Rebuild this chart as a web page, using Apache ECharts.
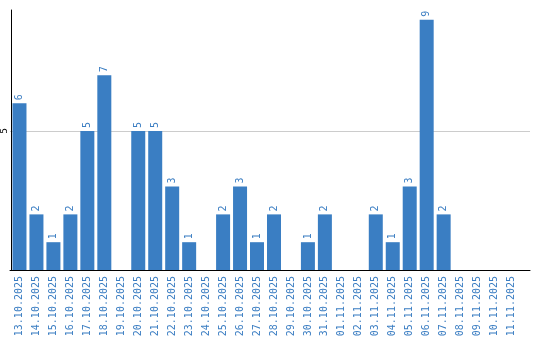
<!DOCTYPE html>
<html>
<head>
<meta charset="utf-8">
<script src="https://cdn.jsdelivr.net/npm/echarts@6/dist/echarts.min.js"></script>
<style>html,body{margin:0;padding:0;background:#fff}#c{width:540px;height:340px}</style>
</head>
<body>
<div id="c"></div>
<script>
var categories = ['13.10.2025','14.10.2025','15.10.2025','16.10.2025','17.10.2025','18.10.2025','19.10.2025','20.10.2025','21.10.2025','22.10.2025','23.10.2025','24.10.2025','25.10.2025','26.10.2025','27.10.2025','28.10.2025','29.10.2025','30.10.2025','31.10.2025','01.11.2025','02.11.2025','03.11.2025','04.11.2025','05.11.2025','06.11.2025','07.11.2025','08.11.2025','09.11.2025','10.11.2025','11.11.2025'];
var values = [6,2,1,2,5,7,0,5,5,3,1,0,2,3,1,2,0,1,2,0,0,2,1,3,9,2,0,0,0,0];
var yTickLabels = [5];

var chart = echarts.init(document.getElementById('c'), null, {renderer: 'canvas'});
chart.setOption({
  animation: false,
  backgroundColor: '#fff',
  grid: [
    {left: 10, right: 20, top: 10, bottom: 70, containLabel: false},
    {left: 10, right: 10, top: 10, bottom: 70, containLabel: false}
  ],
  xAxis: [{
    type: 'category',
    gridIndex: 0,
    data: categories,
    axisLine: {show: false},
    axisTick: {show: false},
    axisLabel: {
      interval: 0, rotate: 90, margin: 6,
      color: '#3a7dc2', fontFamily: 'DejaVu Sans Mono', fontSize: 10
    }
  }, {
    type: 'value',
    gridIndex: 1,
    min: 0, max: 1,
    axisLine: {show: true, lineStyle: {color: '#000', width: 1}},
    axisTick: {show: false},
    axisLabel: {show: false},
    splitLine: {show: false}
  }],
  yAxis: [{
    type: 'value', gridIndex: 0, min: 0, max: 9.35, interval: 5,
    axisLine: {show: true, lineStyle: {color: '#000', width: 1}},
    axisTick: {show: false},
    splitLine: {show: false},
    axisLabel: {
      rotate: 90, margin: 2, color: '#000', fontFamily: 'DejaVu Sans', fontSize: 9,
      formatter: function (v) { return yTickLabels.indexOf(v) >= 0 ? String(v) : ''; }
    }
  }, {
    type: 'value', gridIndex: 1, min: 0, max: 9.35, interval: 5,
    axisLine: {show: false},
    axisTick: {show: false},
    axisLabel: {show: false},
    splitLine: {show: true, lineStyle: {color: ['rgba(0,0,0,0)', '#cccccc', 'rgba(0,0,0,0)'], width: 1}}
  }],
  series: [{
    type: 'bar',
    xAxisIndex: 0, yAxisIndex: 0,
    data: values,
    barWidth: 14,
    z: 3,
    itemStyle: {color: '#3a7ec3'},
    label: {
      show: true, position: 'top', rotate: 90, align: 'left', verticalAlign: 'middle', distance: 3,
      color: '#3a7dc2', fontFamily: 'DejaVu Sans Mono', fontSize: 10,
      formatter: function (p) { return p.value ? String(p.value) : ''; }
    }
  }]
});
</script>
</body>
</html>
